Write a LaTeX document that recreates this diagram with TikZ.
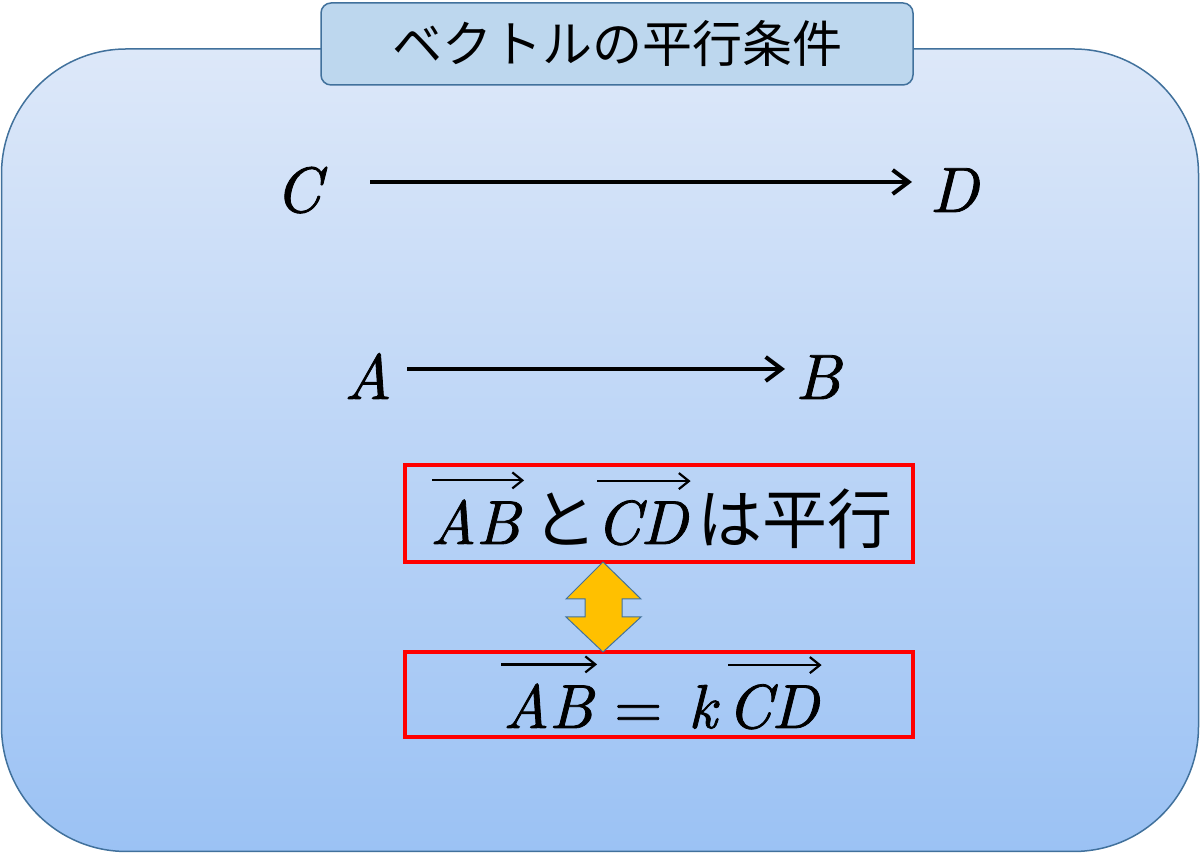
\RequirePackage{fix-cm}
\documentclass[tikz,border=0pt]{standalone}
\usepackage{fontspec}
\newfontfamily\jp{Noto Sans CJK JP}
\newfontfamily\vl{lmroman10-italic.otf}[FakeBold=1.3]
\usetikzlibrary{arrows.meta,calc}
\definecolor{bgtop}{HTML}{DDE8F9}
\definecolor{bgbot}{HTML}{9BC2F4}
\definecolor{edgeblue}{HTML}{41719C}
\definecolor{titlefill}{HTML}{BDD7EE}
\definecolor{gold}{HTML}{FFC000}
\tikzset{
  panel/.style={draw=edgeblue, line width=1.5pt, top color=bgtop, bottom color=bgbot, rounded corners=125pt},
  titlebox/.style={draw=edgeblue, line width=1.5pt, fill=titlefill, rounded corners=10pt, minimum width=592pt, minimum height=82pt, inner sep=0pt},
  letter/.style={anchor=base, inner sep=0pt, font=\fontsize{64}{70}\selectfont\vl},
  boxtext/.style={anchor=base west, inner sep=0pt, font=\fontsize{62}{66}\selectfont\vl},
  jptext/.style={anchor=base west, inner sep=0pt, font=\fontsize{65}{70}\selectfont\jp},
  redbox/.style={draw=red, line width=4pt, minimum width=508pt, inner sep=0pt},
  vec/.style={line width=4pt, -{Straight Barb[length=16pt,width=24pt,line width=4pt]}},
  over/.style={line width=2.2pt, -{Straight Barb[length=10pt,width=16pt,line width=2.2pt]}},
  dbl/.style={draw=edgeblue, line width=1pt, fill=gold, line join=miter}
}
\begin{document}
\begin{tikzpicture}[x=1pt,y=1pt]
\useasboundingbox (0,0) rectangle (1200,853);
% background panel
\draw[panel] (1.5,1.5) rectangle (1198.5,804);
% title
\node[titlebox] (title) at (617,809) {\fontsize{50}{56}\selectfont\jp ベクトルの平行条件};
% points
\node[letter] (C) at (298,641) {C};
\node[letter] (D) at (954,641) {D};
\node[letter] (A) at (368,454) {A};
\node[letter] (B) at (818,454) {B};
\draw[vec] ($(C.base)+(72,30)$) -- ($(D.base)+(-42,30)$);
\draw[vec] ($(A.base)+(39,30)$) -- ($(B.base)+(-33,30)$);
% boxes
\node[redbox, minimum height=97pt] (box1) at (659,339.5) {};
\node[redbox, minimum height=85pt] (box2) at (659,158.5) {};
% line 1
\node[boxtext] (ab1) at (430,309) {AB};
\node[jptext]  (to1) at (532,309) {と};
\node[boxtext] (cd1) at (596,309) {CD};
\node[jptext]  (ha1) at (697,309) {は平行};
\draw[over] ($(ab1.north west)+(2,19)$) -- ($(ab1.north east)+(4,19)$);
\draw[over] ($(cd1.north west)+(1,19)$) -- ($(cd1.north east)+(3,19)$);
% line 2
\node[boxtext] (ab2) at (503,125) {AB};
\node[boxtext] (eq)  at (614,125) {\fontspec{lmroman10-regular.otf}[FakeBold=1.3]=};
\node[boxtext] (k)   at (688,125) {k};
\node[boxtext] (cd2) at (727,125) {CD};
\draw[over] ($(ab2.north west)+(-2,19)$) -- ($(ab2.north east)+(4,19)$);
\draw[over] ($(cd2.north west)+(1,19)$) -- ($(cd2.north east)+(3,19)$);
% double arrow
\draw[dbl] (603,291) -- (641,254) -- (622,254) -- (622,236) -- (641,236) -- (603,201)
  -- (566,236) -- (585,236) -- (585,254) -- (566,254) -- cycle;
\end{tikzpicture}
\end{document}
